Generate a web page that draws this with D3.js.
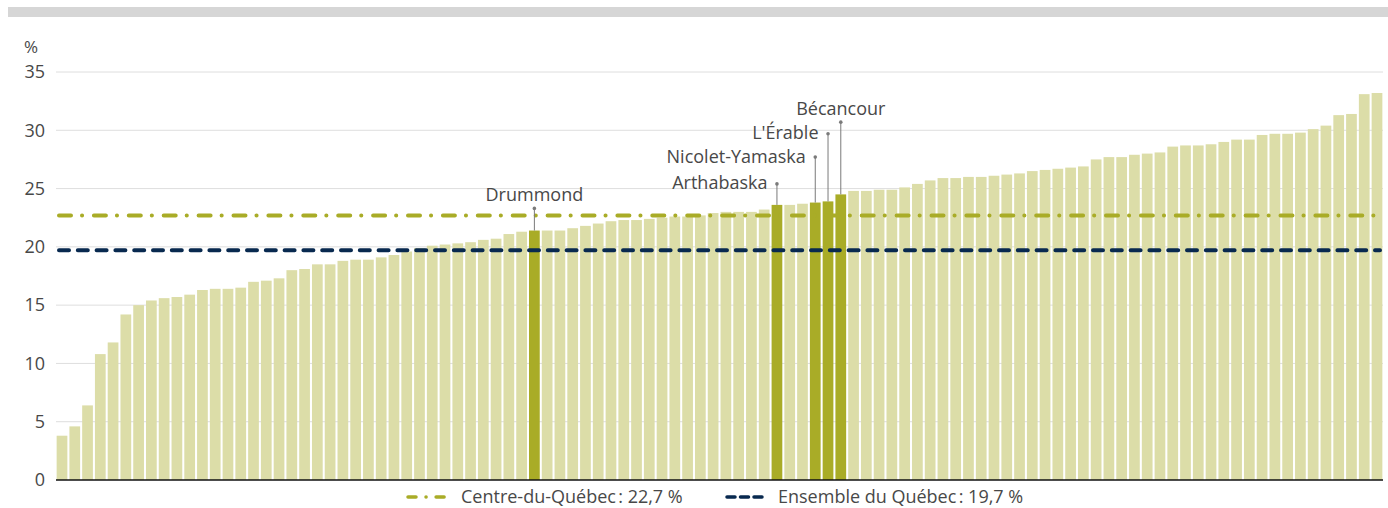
<!DOCTYPE html>
<html>
<head>
<meta charset="utf-8">
<script src="https://cdn.jsdelivr.net/npm/d3@7"></script>
<style>
  html, body { margin: 0; padding: 0; background: #fff; }
  svg { display: block; font-family: "Open Sans", sans-serif; }
</style>
</head>
<body>
<svg id="chart" width="1388" height="508"></svg>
<script>
// one value per territory, sorted ascending (%)
const values = [
  3.8, 4.6, 6.4, 10.8, 11.8, 14.2, 15.0, 15.4, 15.6, 15.7,
  15.9, 16.3, 16.4, 16.4, 16.5, 17.0, 17.1, 17.3, 18.0, 18.1,
  18.5, 18.5, 18.8, 18.9, 18.9, 19.1, 19.3, 19.6, 19.9, 20.1,
  20.2, 20.3, 20.4, 20.6, 20.7, 21.1, 21.3, 21.4, 21.4, 21.4,
  21.6, 21.8, 22.0, 22.2, 22.3, 22.3, 22.4, 22.5, 22.6, 22.6,
  22.7, 22.9, 23.0, 23.0, 23.0, 23.2, 23.6, 23.6, 23.7, 23.8,
  23.9, 24.5, 24.8, 24.8, 24.9, 24.9, 25.1, 25.4, 25.7, 25.9,
  25.9, 26.0, 26.0, 26.1, 26.2, 26.3, 26.5, 26.6, 26.7, 26.8,
  26.9, 27.5, 27.7, 27.7, 27.9, 28.0, 28.1, 28.6, 28.7, 28.7,
  28.8, 29.0, 29.2, 29.2, 29.6, 29.7, 29.7, 29.8, 30.1, 30.4,
  31.3, 31.4, 33.1, 33.2
];

// highlighted MRC of Centre-du-Québec: bar index and height of the leader top (%)
const highlightNames = ["Drummond", "Arthabaska", "Nicolet-Yamaska", "L'Érable", "Bécancour"];
const highlightIndex = [37, 56, 59, 60, 61];
const leaderTop = [23.3, 25.4, 27.7, 29.7, 30.7];
const labelSide = ["top", "left", "left", "left", "top"];

const yTicks = [0, 5, 10, 15, 20, 25, 30, 35];

const refNames = ["Centre-du-Québec", "Ensemble du Québec"];
const refValues = [22.7, 19.7];
const refLabels = ["Centre-du-Québec\u202F: 22,7 %", "Ensemble du Québec\u202F: 19,7 %"];

const W = 1388, H = 508;
const margin = { left: 56, right: 5, top: 72, bottom: 28 };
const svg = d3.select("#chart");

const LIGHT = "#dcdda8", OLIVE = "#a9ac27", NAVY = "#08294f", TXT = "#484848";

// grey band at the top
svg.append("rect").attr("x", 8).attr("y", 7).attr("width", W - 8).attr("height", 10).attr("fill", "#d6d6d6");

const x = d3.scaleBand()
  .domain(d3.range(values.length))
  .range([margin.left, W - margin.right])
  .paddingInner(0.16).paddingOuter(0.05);

const y = d3.scaleLinear().domain([0, 35]).range([H - margin.bottom, margin.top]);

// grid
svg.append("g").selectAll("line").data(yTicks.filter(d => d > 0)).join("line")
  .attr("x1", margin.left).attr("x2", W - margin.right)
  .attr("y1", d => y(d)).attr("y2", d => y(d))
  .attr("stroke", "#dedede").attr("stroke-width", 1);

// y tick labels
svg.append("g").selectAll("text").data(yTicks).join("text")
  .attr("x", 45).attr("y", d => y(d)).attr("dy", "0.35em")
  .attr("text-anchor", "end").attr("fill", TXT).style("font-size", "18px")
  .text(d => d);

svg.append("text").attr("x", 24).attr("y", 53).attr("fill", TXT)
  .style("font-size", "17px").text("%");

// bars
const hiSet = new Set(highlightIndex);
svg.append("g").selectAll("rect").data(values).join("rect")
  .attr("x", (d, i) => x(i)).attr("width", x.bandwidth())
  .attr("y", d => y(d)).attr("height", d => y(0) - y(d))
  .attr("fill", (d, i) => hiSet.has(i) ? OLIVE : LIGHT);

// baseline
svg.append("line").attr("x1", margin.left).attr("x2", W - margin.right)
  .attr("y1", y(0)).attr("y2", y(0)).attr("stroke", "#111").attr("stroke-width", 1.5);

// reference lines
const dashes = ["12,11,0.1,11.8", "10,8.8"];
const refColors = [OLIVE, NAVY];
svg.append("g").selectAll("line").data(refValues).join("line")
  .attr("x1", margin.left + 3).attr("x2", W - margin.right - 3)
  .attr("y1", d => y(d)).attr("y2", d => y(d))
  .attr("stroke", (d, i) => refColors[i]).attr("stroke-width", 4)
  .attr("stroke-linecap", "round")
  .attr("stroke-dasharray", (d, i) => dashes[i]);

// annotations
const ann = svg.append("g");
highlightIndex.forEach((idx, k) => {
  const cx = x(idx) + x.bandwidth() / 2;
  const top = y(leaderTop[k]);
  ann.append("line").attr("x1", cx).attr("x2", cx)
    .attr("y1", top).attr("y2", y(values[idx]))
    .attr("stroke", "#7a7a7a").attr("stroke-width", 1);
  ann.append("circle").attr("cx", cx).attr("cy", top).attr("r", 1.8).attr("fill", "#7a7a7a");
  const t = ann.append("text").attr("fill", TXT).style("font-size", "18px")
    .text(highlightNames[k]);
  if (labelSide[k] === "top") {
    t.attr("x", cx).attr("y", top - 7.5).attr("text-anchor", "middle");
  } else {
    t.attr("x", cx - 9.5).attr("y", top + 5.5).attr("text-anchor", "end");
  }
});

// legend
const legY = 497;
const legItems = [
  { x0: 408, len: 37, tx: 461 },
  { x0: 727, len: 40, tx: 778 }
];
const legDash = ["8,10,0.1,10", "8,5.5"];
legItems.forEach((it, i) => {
  svg.append("line").attr("x1", it.x0).attr("x2", it.x0 + it.len)
    .attr("y1", legY).attr("y2", legY)
    .attr("stroke", refColors[i]).attr("stroke-width", 3.5)
    .attr("stroke-linecap", "round").attr("stroke-dasharray", legDash[i]);
  svg.append("text").attr("x", it.tx).attr("y", legY).attr("dy", "0.35em")
    .attr("fill", TXT).style("font-size", "18px").text(refLabels[i]);
});
</script>
</body>
</html>
